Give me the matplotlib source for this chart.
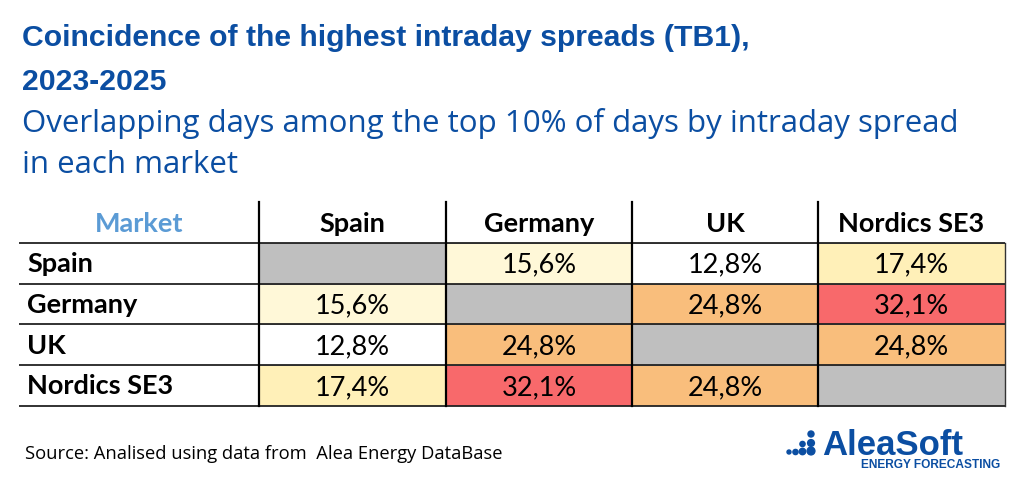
import numpy as np
import matplotlib.pyplot as plt
from matplotlib.colors import LinearSegmentedColormap
from matplotlib.patches import Rectangle, Circle

markets = ["Spain", "Germany", "UK", "Nordics SE3"]
# overlap (%) between markets, NaN on the diagonal
overlap = np.array([
    [np.nan, 15.6, 12.8, 17.4],
    [15.6, np.nan, 24.8, 32.1],
    [12.8, 24.8, np.nan, 24.8],
    [17.4, 32.1, 24.8, np.nan],
])

title_lines = ["Coincidence of the highest intraday spreads (TB1),", "2023-2025"]
subtitle_lines = ["Overlapping days among the top 10% of days by intraday spread",
                  "in each market"]
source = "Source: Analised using data from  Alea Energy DataBase"

blue = "#0B4EA2"
cmap = LinearSegmentedColormap.from_list(
    "spread", [(0, "#FFFFFF"), (0.145, "#FFF8D8"), (0.24, "#FFF0B8"),
               (0.62, "#F9BF7C"), (1, "#F8696B")])

W, H = 1024, 490
fig = plt.figure(figsize=(W / 100, H / 100), dpi=100)
fig.patch.set_facecolor("white")

for line, yb in zip(title_lines, [46, 90]):
    fig.text(22 / W, 1 - yb / H, line, fontsize=21.7, fontweight="bold",
             color=blue, family="Liberation Sans", va="baseline")
for line, yb in zip(subtitle_lines, [132, 173]):
    fig.text(22 / W, 1 - yb / H, line, fontsize=22.5, color=blue,
             family="Open Sans", va="baseline")
fig.text(25 / W, 1 - 459 / H, source, fontsize=13.2, color="black",
         family="Open Sans", va="baseline")

# table area
ax = fig.add_axes([19 / W, 84 / H, 986 / W, 204 / H])
col_w = [240, 187, 186, 186, 187]
edges = np.concatenate([[0], np.cumsum(col_w)])
n = len(markets)
ax.set_xlim(0, edges[-1])
ax.set_ylim(n + 1, 0)
ax.axis("off")

vmin, vmax = np.nanmin(overlap), np.nanmax(overlap)
tfont = "Lato"
fs = 19.5

ax.text(col_w[0] / 2, 0.55, "Market", ha="center", va="center", fontsize=fs,
        fontweight="bold", color="#5B9BD5", family=tfont)
for j, m in enumerate(markets):
    ax.text((edges[j + 1] + edges[j + 2]) / 2, 0.55, m, ha="center", va="center",
            fontsize=fs, fontweight="bold", color="black", family=tfont)

for i, rm in enumerate(markets):
    y = i + 1
    ax.text(8, y + 0.52, rm, ha="left", va="center", fontsize=fs,
            fontweight="bold", color="black", family=tfont)
    for j in range(n):
        v = overlap[i, j]
        x0, x1 = edges[j + 1], edges[j + 2]
        if np.isnan(v):
            fc = "#BFBFBF"
        else:
            fc = cmap((v - vmin) / (vmax - vmin))
        ax.add_patch(Rectangle((x0, y), x1 - x0, 1, facecolor=fc,
                               edgecolor="#9A9A9A", linewidth=0.6))
        if not np.isnan(v):
            ax.text((x0 + x1) / 2, y + 0.55, f"{v:.1f}%".replace(".", ","),
                    ha="center", va="center", fontsize=fs, color="black",
                    family=tfont)

# grid lines
for k in range(1, n + 2):
    ax.plot([0, edges[-1]], [k, k], color="#222222", lw=1.3,
            solid_capstyle="butt", clip_on=False)
for x in edges[1:-1]:
    ax.plot([x, x], [0, n + 1], color="black", lw=1.6, clip_on=False)
ax.plot([edges[-1], edges[-1]], [1, n + 1], color="#333333", lw=1.0, clip_on=False)

# logo
lax = fig.add_axes([0, 0, 1, 1], facecolor="none")
lax.set_xlim(0, W)
lax.set_ylim(H, 0)
lax.axis("off")
for cx, cy, r in [(789, 452, 2.0), (795.5, 452, 2.6), (802.5, 451.5, 3.2),
                  (811, 451, 3.9), (802.5, 444, 2.6), (811, 443, 3.4),
                  (811, 434, 3.0)]:
    lax.add_patch(Circle((cx, cy), r, color=blue))
lax.text(822, 455, "AleaSoft", fontsize=25, fontweight="bold", color=blue,
         family="Liberation Sans", va="baseline", ha="left")
lax.text(1000, 468, "ENERGY FORECASTING", fontsize=8.6, fontweight="bold",
         color=blue, family="Liberation Sans", va="baseline", ha="right")

fig.savefig("out.png", dpi=100, facecolor="white")
